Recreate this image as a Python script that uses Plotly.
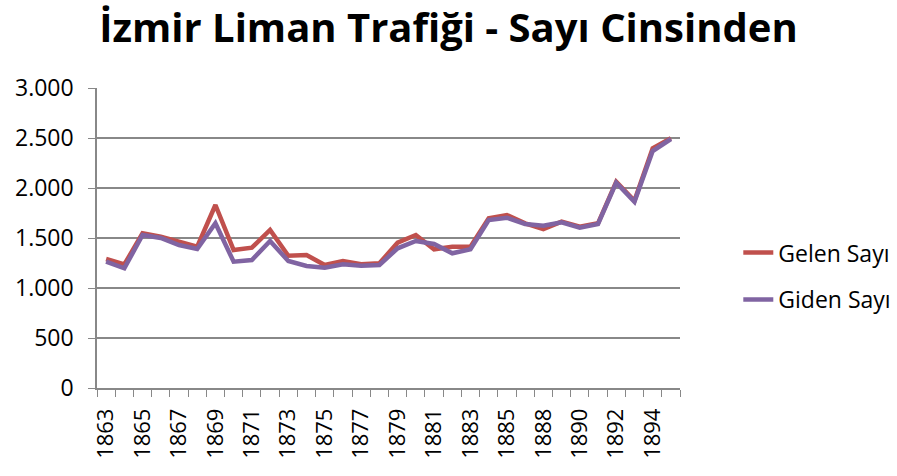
import plotly.graph_objects as go

years = ["1863", "1864", "1865", "1866", "1867", "1868", "1869", "1870", "1871", "1872",
         "1873", "1874", "1875", "1876", "1877", "1878", "1879", "1880", "1881", "1882",
         "1883", "1884", "1885", "1886", "1888", "1889", "1890", "1891", "1892", "1893",
         "1894", "1895"]
gelen = [1290, 1235, 1547, 1513, 1463, 1413, 1830, 1380, 1403, 1580,
         1323, 1330, 1230, 1270, 1237, 1247, 1453, 1530, 1387, 1413,
         1413, 1697, 1730, 1647, 1590, 1663, 1613, 1647, 2063, 1873,
         2397, 2497]
giden = [1263, 1197, 1530, 1500, 1430, 1390, 1647, 1263, 1280, 1470,
         1270, 1220, 1203, 1237, 1223, 1230, 1397, 1470, 1440, 1347,
         1387, 1680, 1703, 1640, 1623, 1657, 1603, 1640, 2053, 1863,
         2370, 2490]
tick_labels = [y if i % 2 == 0 else "" for i, y in enumerate(years)]
yticks = [0, 500, 1000, 1500, 2000, 2500, 3000]

FONT = "Open Sans"

fig = go.Figure()
fig.add_trace(go.Scatter(x=years, y=gelen, mode="lines", name="Gelen Sayı",
                         legendgroup="a",
                         line=dict(color="#C0504D", width=4.5)))
fig.add_trace(go.Scatter(x=years, y=giden, mode="lines", name="Giden Sayı",
                         legendgroup="b",
                         line=dict(color="#8064A2", width=4.5)))

fig.update_layout(
    width=897, height=476,
    margin=dict(l=97, r=217, t=88, b=88, autoexpand=False),
    paper_bgcolor="white", plot_bgcolor="white",
    separators=",.",
    font=dict(family=FONT, size=22, color="black"),
    title=dict(text="<b>İzmir Liman Trafiği - Sayı Cinsinden</b>",
               x=0.5, xanchor="center", yref="container", y=0.97, yanchor="top",
               font=dict(family=FONT, size=40, color="black")),
    legend=dict(x=1.10, xanchor="left", y=0.373, yanchor="middle",
                traceorder="grouped", tracegroupgap=14,
                font=dict(family=FONT, size=23, color="black"),
                bgcolor="rgba(0,0,0,0)"),
    xaxis=dict(type="category", tickmode="array", tickvals=years, ticktext=tick_labels,
               tickson="boundaries", ticks="outside", ticklen=7, tickcolor="#888888",
               tickangle=-90, showline=True, linecolor="#888888", linewidth=1.5,
               showgrid=False, range=[-0.5, len(years) - 0.5],
               ticklabelstandoff=10,
               tickfont=dict(family=FONT, size=22, color="black")),
    yaxis=dict(range=[0, 3000], tickmode="array", tickvals=yticks, tickformat=",d",
               ticks="outside", ticklen=7, tickcolor="#888888",
               showline=True, linecolor="#888888", linewidth=1.5,
               showgrid=True, gridcolor="#888888", gridwidth=1.5,
               zeroline=False, ticklabelstandoff=10,
               tickfont=dict(family=FONT, size=23, color="black")),
)

fig.write_html("out.html", config={"displayModeBar": False},
               post_script="document.body.style.margin='0';")
